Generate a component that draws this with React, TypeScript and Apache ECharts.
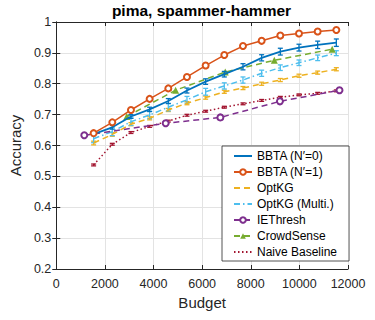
import React, { useEffect, useRef } from "react";
import * as echarts from "echarts";

// ---- data ----
const budgets = [1536, 2304, 3072, 3840, 4608, 5376, 6144, 6912, 7680, 8448, 9216, 9984, 10752, 11520];

const bbta0 = [0.637, 0.659, 0.694, 0.717, 0.744, 0.778, 0.807, 0.831, 0.855, 0.884, 0.904, 0.917, 0.926, 0.933];
const bbta0Err = [0.005, 0.006, 0.006, 0.007, 0.008, 0.008, 0.009, 0.009, 0.01, 0.01, 0.011, 0.011, 0.012, 0.012];

const bbta1 = [0.64, 0.675, 0.715, 0.751, 0.785, 0.822, 0.859, 0.893, 0.922, 0.939, 0.956, 0.963, 0.969, 0.974];
const bbta1Err = [0.004, 0.004, 0.004, 0.004, 0.005, 0.005, 0.005, 0.005, 0.005, 0.005, 0.005, 0.005, 0.005, 0.005];

const optkg = [0.608, 0.636, 0.669, 0.688, 0.715, 0.737, 0.755, 0.774, 0.786, 0.8, 0.812, 0.826, 0.836, 0.847];
const optkgErr = [0.006, 0.006, 0.005, 0.005, 0.005, 0.005, 0.005, 0.005, 0.005, 0.005, 0.005, 0.005, 0.005, 0.005];

const optkgMulti = [0.622, 0.645, 0.677, 0.699, 0.724, 0.748, 0.774, 0.793, 0.812, 0.834, 0.852, 0.868, 0.884, 0.899];
const optkgMultiErr = [0.013, 0.013, 0.012, 0.012, 0.012, 0.011, 0.011, 0.01, 0.01, 0.01, 0.009, 0.009, 0.009, 0.008];

const ieBudgets = [1152, 4500, 6750, 9200, 11650];
const ieThresh = [0.633, 0.672, 0.691, 0.743, 0.779];
const ieThreshErr = [0.005, 0.007, 0.008, 0.008, 0.008];

const csBudgets = [2900, 4910, 6950, 8970, 11350];
const crowdSense = [0.694, 0.779, 0.838, 0.876, 0.912];

const naive = [0.537, 0.604, 0.642, 0.662, 0.679, 0.698, 0.711, 0.724, 0.735, 0.746, 0.756, 0.764, 0.769, 0.777];
const naiveErr = [0.003, 0.003, 0.003, 0.003, 0.003, 0.003, 0.003, 0.003, 0.003, 0.003, 0.003, 0.003, 0.003, 0.003];

const seriesNames = [
  "BBTA (N\u2032=0)",
  "BBTA (N\u2032=1)",
  "OptKG",
  "OptKG (Multi.)",
  "IEThresh",
  "CrowdSense",
  "Naive Baseline",
];
// which legend entries show a marker
const legendHasMarker = [false, true, false, false, true, true, false];

const xTicks = { min: 0, max: 12000, interval: 2000 };
const yTicks = { min: 0.2, max: 1, interval: 0.1 };

const COLORS = {
  blue: "#0072BD",
  orange: "#D95319",
  yellow: "#EDB120",
  purple: "#7E2F8E",
  green: "#77AC30",
  lightBlue: "#4DBEEE",
  red: "#A2142F",
};

const FONT = "'Liberation Sans', Arial, Helvetica, sans-serif";
const AXIS_COLOR = "#262626";

function pairs(xs: number[], ys: number[]) {
  return xs.map((x, i) => [x, ys[i]]);
}

function errData(xs: number[], ys: number[], es: number[]) {
  return xs.map((x, i) => [x, ys[i] - es[i], ys[i] + es[i]]);
}

function errSeries(id: string, color: string, data: number[][], z: number) {
  return {
    type: "custom",
    name: id,
    data,
    z,
    silent: true,
    encode: { x: 0, y: [1, 2] },
    renderItem: (params: any, api: any) => {
      const x = api.value(0);
      const lo = api.coord([x, api.value(1)]);
      const hi = api.coord([x, api.value(2)]);
      const w = 2.5;
      const style = { stroke: color, lineWidth: 1.3, fill: "none" };
      return {
        type: "group",
        children: [
          { type: "line", shape: { x1: lo[0], y1: lo[1], x2: hi[0], y2: hi[1] }, style },
          { type: "line", shape: { x1: lo[0] - w, y1: lo[1], x2: lo[0] + w, y2: lo[1] }, style },
          { type: "line", shape: { x1: hi[0] - w, y1: hi[1], x2: hi[0] + w, y2: hi[1] }, style },
        ],
      };
    },
  };
}

export default function App() {
  const ref = useRef<HTMLDivElement>(null);

  useEffect(() => {
    document.body.style.margin = "0";
    if (!ref.current) return;
    const chart = echarts.init(ref.current, undefined, { renderer: "svg" });

    const lw = 1.5;
    const option: any = {
      animation: false,
      textStyle: { fontFamily: FONT },
      title: {
        text: "pima, spammer-hammer",
        left: 201.5,
        textAlign: "center",
        top: 2,
        padding: 0,
        textStyle: { fontFamily: FONT, fontSize: 15.5, fontWeight: "bold", color: "#000" },
      },
      grid: { left: 55, right: 27, top: 22, bottom: 51, containLabel: false },
      legend: {
        orient: "vertical",
        left: 222,
        top: 146,
        data: seriesNames.map((n, i) =>
          legendHasMarker[i] ? { name: n } : { name: n, itemStyle: { opacity: 0 } }
        ),
        itemWidth: 18,
        itemHeight: 7,
        itemGap: 2,
        padding: [3, 12, 2, 11],
        backgroundColor: "#fff",
        borderColor: AXIS_COLOR,
        borderWidth: 0.8,
        borderRadius: 0,
        textStyle: { fontFamily: FONT, fontSize: 12, color: "#000", lineHeight: 14 },
        z: 10,
      },
      xAxis: [
        {
          type: "value",
          ...xTicks,
          position: "bottom",
          name: "Budget",
          nameLocation: "middle",
          nameGap: 25,
          nameTextStyle: { fontFamily: FONT, fontSize: 15, color: AXIS_COLOR },
          axisLine: { show: true, lineStyle: { color: AXIS_COLOR, width: 1 } },
          axisTick: { show: true, inside: true, length: 4, lineStyle: { color: AXIS_COLOR } },
          axisLabel: {
            fontFamily: FONT,
            fontSize: 12.5,
            color: AXIS_COLOR,
            margin: 8,
            formatter: (v: number) => String(Math.round(v)),
          },
          splitLine: { show: true, lineStyle: { color: "#e3e3e3", width: 1 } },
        },
        {
          type: "value",
          ...xTicks,
          position: "top",
          axisLine: { show: true, lineStyle: { color: AXIS_COLOR, width: 1 } },
          axisTick: { show: true, inside: true, length: 4, lineStyle: { color: AXIS_COLOR } },
          axisLabel: { show: false },
          splitLine: { show: false },
        },
      ],
      yAxis: [
        {
          type: "value",
          ...yTicks,
          position: "left",
          name: "Accuracy",
          nameLocation: "middle",
          nameGap: 24,
          nameTextStyle: { fontFamily: FONT, fontSize: 15, color: AXIS_COLOR },
          axisLine: { show: true, lineStyle: { color: AXIS_COLOR, width: 1 } },
          axisTick: { show: true, inside: true, length: 4, lineStyle: { color: AXIS_COLOR } },
          axisLabel: {
            fontFamily: FONT,
            fontSize: 12.5,
            color: AXIS_COLOR,
            margin: 5,
            formatter: (v: number) => String(Math.round(v * 10) / 10),
          },
          splitLine: { show: true, lineStyle: { color: "#e3e3e3", width: 1 } },
        },
        {
          type: "value",
          ...yTicks,
          position: "right",
          axisLine: { show: true, lineStyle: { color: AXIS_COLOR, width: 1 } },
          axisTick: { show: true, inside: true, length: 4, lineStyle: { color: AXIS_COLOR } },
          axisLabel: { show: false },
          splitLine: { show: false },
        },
      ],
      series: [
        {
          name: seriesNames[0],
          type: "line",
          data: pairs(budgets, bbta0),
          symbol: "none",
          lineStyle: { color: COLORS.blue, width: 1.8 },
          itemStyle: { color: COLORS.blue },
          z: 5,
        },
        errSeries("e0", COLORS.blue, errData(budgets, bbta0, bbta0Err), 5),
        {
          name: seriesNames[1],
          type: "line",
          data: pairs(budgets, bbta1),
          symbol: "emptyCircle",
          symbolSize: 6,
          lineStyle: { color: COLORS.orange, width: lw },
          itemStyle: { color: COLORS.orange, borderColor: COLORS.orange, borderWidth: 1.5 },
          z: 5,
        },
        errSeries("e1", COLORS.orange, errData(budgets, bbta1, bbta1Err), 5),
        {
          name: seriesNames[2],
          type: "line",
          data: pairs(budgets, optkg),
          symbol: "none",
          lineStyle: { color: COLORS.yellow, width: lw, type: [6, 4] },
          itemStyle: { color: COLORS.yellow },
          z: 4,
        },
        errSeries("e2", COLORS.yellow, errData(budgets, optkg, optkgErr), 4),
        {
          name: seriesNames[3],
          type: "line",
          data: pairs(budgets, optkgMulti),
          symbol: "none",
          lineStyle: { color: COLORS.lightBlue, width: lw, type: [6, 3, 1.5, 3] },
          itemStyle: { color: COLORS.lightBlue },
          z: 4,
        },
        errSeries("e3", COLORS.lightBlue, errData(budgets, optkgMulti, optkgMultiErr), 4),
        {
          name: seriesNames[4],
          type: "line",
          data: pairs(ieBudgets, ieThresh),
          symbol: "emptyCircle",
          symbolSize: 6,
          lineStyle: { color: COLORS.purple, width: lw, type: [6, 4] },
          itemStyle: { color: COLORS.purple, borderColor: COLORS.purple, borderWidth: 1.5 },
          z: 4,
        },
        errSeries("e4", COLORS.purple, errData(ieBudgets, ieThresh, ieThreshErr), 4),
        {
          name: seriesNames[5],
          type: "line",
          data: pairs(csBudgets, crowdSense),
          symbol: "triangle",
          symbolSize: 7,
          lineStyle: { color: COLORS.green, width: lw, type: [6, 4] },
          itemStyle: { color: COLORS.green },
          z: 4,
        },
        {
          name: seriesNames[6],
          type: "line",
          data: pairs(budgets, naive),
          symbol: "none",
          lineStyle: { color: COLORS.red, width: lw, type: [1.5, 2.5] },
          itemStyle: { color: COLORS.red },
          z: 3,
        },
        errSeries("e6", COLORS.red, errData(budgets, naive, naiveErr), 3),
      ],
    };

    chart.setOption(option);
    return () => chart.dispose();
  }, []);

  return <div ref={ref} style={{ width: 375, height: 320, position: "absolute", left: 0, top: 0 }} />;
}
